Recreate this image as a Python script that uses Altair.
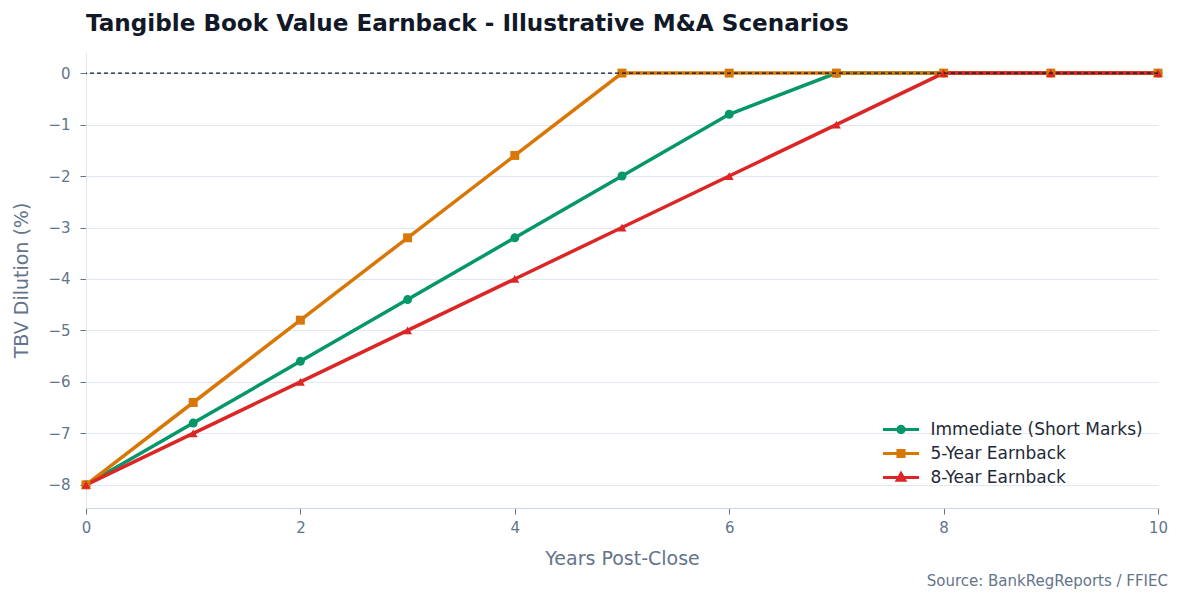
import altair as alt
import pandas as pd

years = [0, 1, 2, 3, 4, 5, 6, 7, 8, 9, 10]
immediate = [-8, -6.8, -5.6, -4.4, -3.2, -2.0, -0.8, 0, 0, 0, 0]
five_year = [-8, -6.4, -4.8, -3.2, -1.6, 0, 0, 0, 0, 0, 0]
eight_year = [-8, -7, -6, -5, -4, -3, -2, -1, 0, 0, 0]
series_names = ["Immediate (Short Marks)", "5-Year Earnback", "8-Year Earnback"]
series_colors = ["#059669", "#d97706", "#dc2626"]
series_shapes = ["circle", "square", "triangle-up"]

rows = []
for name, vals in zip(series_names, [immediate, five_year, eight_year]):
    for x, y in zip(years, vals):
        rows.append({"Year": x, "Dilution": y, "Scenario": name})
df = pd.DataFrame(rows)

W, H = 1072, 456
xscale = alt.Scale(domain=[0, 10], nice=False, zero=False)
yscale = alt.Scale(domain=[-8.45, 0.41], nice=False, zero=False)

# legend glyphs: line segment with a marker (paths in symbol units, 9px per unit);
# nested sub-paths so the thick stroke leaves the marker solid
circle_p = ("M-2,0H2M0.36,0A0.36,0.36 0 1,1 -0.36,0A0.36,0.36 0 1,1 0.36,0Z"
            "M0.15,0A0.15,0.15 0 1,1 -0.15,0A0.15,0.15 0 1,1 0.15,0Z")
square_p = "M-2,0H2M-0.34,-0.34H0.34V0.34H-0.34ZM-0.12,-0.12H0.12V0.12H-0.12Z"
tri_p = "M-2,0H2M0,-0.45L0.42,0.3L-0.42,0.3ZM0,-0.12L0.12,0.1L-0.12,0.1Z"
shape_sig = ("datum.value === '%s' ? '%s' : datum.value === '%s' ? '%s' : '%s'"
             % (series_names[0], circle_p, series_names[1], square_p, tri_p))
col_sig = "scale('color', datum.value)"

color = alt.Color("Scenario:N", scale=alt.Scale(domain=series_names, range=series_colors),
                  legend=alt.Legend(title=None, orient="none", legendX=797, legendY=367,
                                    labelFontSize=17, labelColor="#1f2937", symbolSize=324,
                                    rowPadding=4, symbolStrokeWidth=3, labelLimit=400,
                                    symbolOffset=7.5, labelOffset=19,
                                    symbolType=alt.ExprRef(expr=shape_sig),
                                    symbolFillColor=alt.ExprRef(expr=col_sig),
                                    symbolStrokeColor=alt.ExprRef(expr=col_sig),
                                    symbolOpacity=1))

xax = alt.Axis(title="Years Post-Close", values=[0, 2, 4, 6, 8, 10], grid=False, format="d",
               labelFlush=False, labelFontSize=15, labelColor="#64748b", titleFontSize=19,
               titleColor="#64748b", titleFontWeight="normal", domainColor="#cbd5e1",
               tickColor="#64748b", tickSize=6, labelPadding=6, titlePadding=14)
yax = alt.Axis(title="TBV Dilution (%)", values=[-8, -7, -6, -5, -4, -3, -2, -1, 0], grid=True,
               format="d", gridColor="#e2e8f0", labelFontSize=15, labelColor="#64748b",
               titleFontSize=19, titleColor="#64748b", titleFontWeight="normal",
               domainColor="#e2e8f0", tickColor="#64748b", tickSize=6, labelPadding=10,
               titlePadding=16)

base = alt.Chart(df)
lines = base.mark_line(strokeWidth=3.5).encode(
    x=alt.X("Year:Q", scale=xscale, axis=xax),
    y=alt.Y("Dilution:Q", scale=yscale, axis=yax),
    color=color,
    order=alt.Order("Year:Q"),
    detail="Scenario:N",
)
point_layers = []
for name, col, shp in zip(series_names, series_colors, series_shapes):
    point_layers.append(
        base.transform_filter(alt.datum.Scenario == name)
        .mark_point(filled=True, size=80, opacity=1, shape=shp, color=col)
        .encode(x="Year:Q", y="Dilution:Q")
    )
zero = alt.Chart(pd.DataFrame({"y": [0]})).mark_rule(color="#0f172a", strokeDash=[4, 3], strokeWidth=1.2).encode(
    y=alt.Y("y:Q", scale=yscale)
)
source = alt.Chart(pd.DataFrame({"t": ["Source: BankRegReports / FFIEC"]})).mark_text(
    align="right", baseline="middle", fontSize=15, color="#64748b", font="DejaVu Sans"
).encode(text="t:N", x=alt.value(W + 10), y=alt.value(H + 73))

chart = alt.layer(lines, *point_layers, zero, source).properties(
    width=W, height=H,
    padding={"left": 86, "top": 52, "right": 26, "bottom": 97},
    autosize=alt.AutoSizeParams(type="none"),
    title=alt.TitleParams("Tangible Book Value Earnback - Illustrative M&A Scenarios",
                          anchor="start", frame="group", fontSize=23.1, fontWeight="bold",
                          color="#111827", font="DejaVu Sans", offset=16),
).configure(font="DejaVu Sans").configure_view(stroke=None).configure_axis(
    labelFont="DejaVu Sans", titleFont="DejaVu Sans"
).configure_legend(labelFont="DejaVu Sans")

chart.save("out.html", embed_options={"renderer": "svg", "actions": False})
